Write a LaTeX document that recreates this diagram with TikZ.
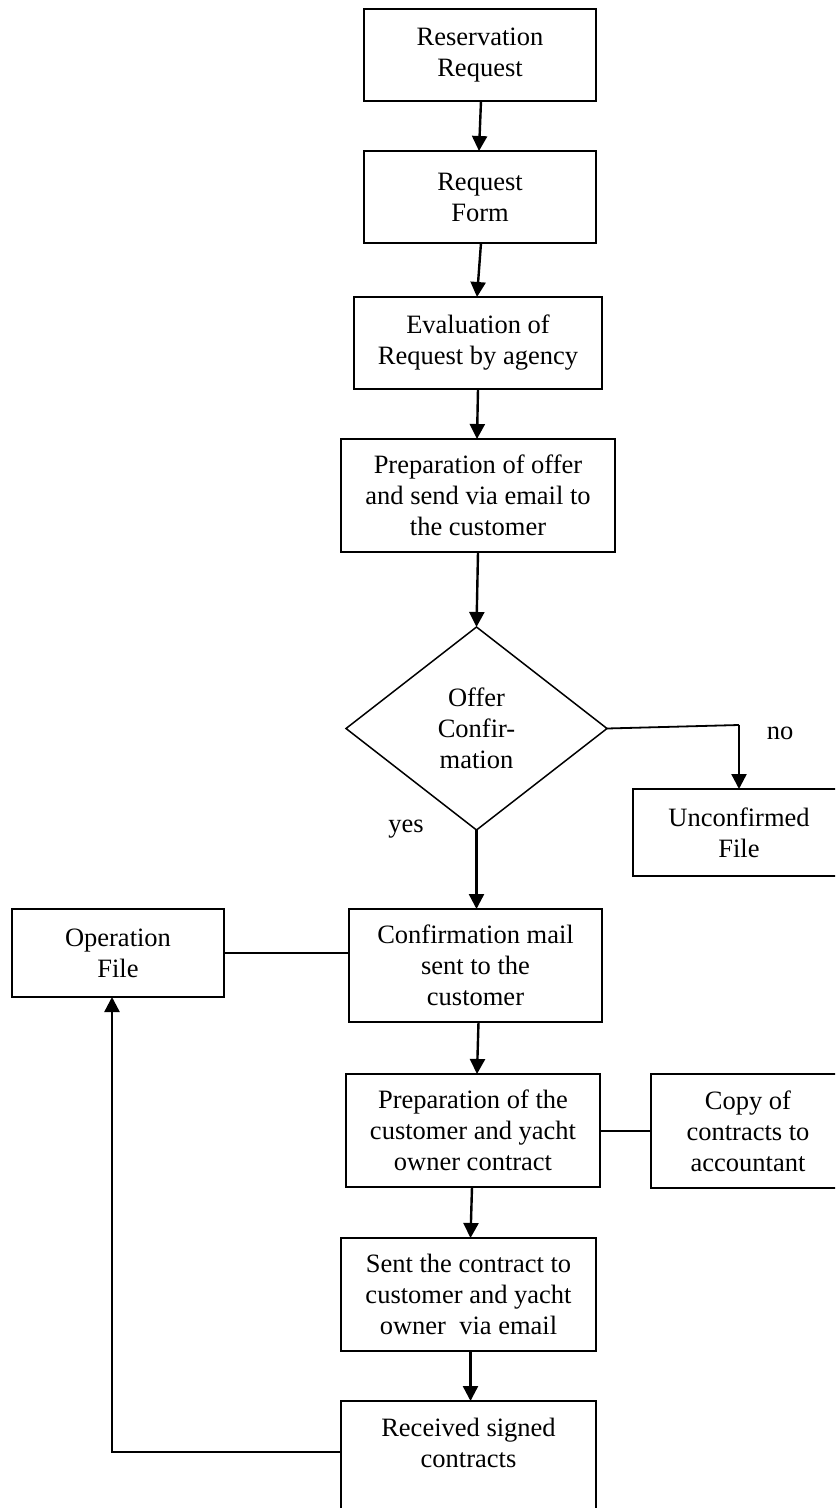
\documentclass[tikz,border=0pt]{standalone}
\usepackage{fontspec}
\setmainfont{Liberation Serif}
\usetikzlibrary{arrows.meta,shapes.geometric}

\begin{document}
\begin{tikzpicture}[x=0.5pt,y=-0.5pt,
  every node/.style={font=\fontsize{13.25}{15.5}\selectfont, inner sep=0pt, outer sep=0pt, align=center},
  box/.style={draw, line width=1pt, rectangle},
  decision/.style={draw, line width=0.75pt, diamond},
  arr/.style={line width=1.2pt, -{Triangle[length=7.5pt,width=7.5pt]}},
  link/.style={line width=1pt},
  tag/.style={font=\fontsize{13.25}{15.5}\selectfont}]

\useasboundingbox (0,0) rectangle (835,1508);
\clip (0,0) rectangle (835,1508);

% main process column
\node[box, minimum width=116pt, minimum height=46pt] (req) at (480,55) {Reservation\\Request};
\node[box, minimum width=116pt, minimum height=46pt] (form) at (480,197) {Request\\Form};
\node[box, minimum width=124pt, minimum height=46pt] (eval) at (478,343) {Evaluation of\\Request by agency};
\node[box, minimum width=137pt, minimum height=56.5pt] (offer) at (478,495.5) {Preparation of offer\\and send via email to\\the customer};
\node[decision, minimum width=130.5pt, minimum height=101.5pt] (conf) at (476.5,728.5) {Offer\\Confir-\\mation};
\node[box, minimum width=106pt, minimum height=43.5pt] (unconf) at (739,832.5) {Unconfirmed\\File};
\node[box, minimum width=106pt, minimum height=44pt] (opfile) at (118,953) {Operation\\File};
\node[box, minimum width=126.5pt, minimum height=56.5pt] (mail) at (475.5,965.5) {Confirmation mail\\sent to the\\customer};
\node[box, minimum width=127pt, minimum height=56.5pt] (contract) at (473,1130.5) {Preparation of the\\customer and yacht\\owner contract};
\node[box, minimum width=97pt, minimum height=57pt] (copy) at (748,1131) {Copy of\\contracts to\\accountant};
\node[box, minimum width=127.5pt, minimum height=56.5pt] (sent) at (468.5,1294.5) {Sent the contract to\\customer and yacht\\owner~~via email};
\node[box, minimum width=127.5pt, minimum height=69pt] (recv) at (468.5,1470) {};
\node (recvtext) at (468.5,1443) {Received signed\\contracts};

% branch labels
\node[tag] (yes) at (406,829) {yes};
\node[tag] (no) at (780,733) {no};

% flow arrows
\draw[arr] ([xshift=0.5pt]req.south) -- ([xshift=-0.5pt]form.north);
\draw[arr] ([xshift=0.5pt]form.south) -- ([xshift=-0.5pt]eval.north);
\draw[arr] (eval.south) -- ([xshift=-0.5pt]offer.north);
\draw[arr] (offer.south) -- (conf.north);
\draw[arr] (conf.south) -- (conf.south |- mail.north);
\coordinate (nobend) at (739,725);
\draw[line width=0.9pt] (conf.east) -- (nobend);
\draw[arr] (nobend) -- (unconf.north);
\draw[link] (opfile.east) -- (opfile.east -| mail.west);
\draw[arr] ([xshift=1.5pt]mail.south) -- ([xshift=2pt]contract.north);
\draw[link] (contract.east) -- (contract.east -| copy.west);
\draw[arr] ([xshift=-0.5pt]contract.south) -- ([xshift=1pt]sent.north);
\draw[arr] ([xshift=1pt]sent.south) -- ([xshift=1pt]recv.north);

% return path to the operation file
\coordinate (fb) at (112,1452);
\draw[arr] (fb -| recv.west) -- (fb) -- (fb |- opfile.south);

\end{tikzpicture}
\end{document}
